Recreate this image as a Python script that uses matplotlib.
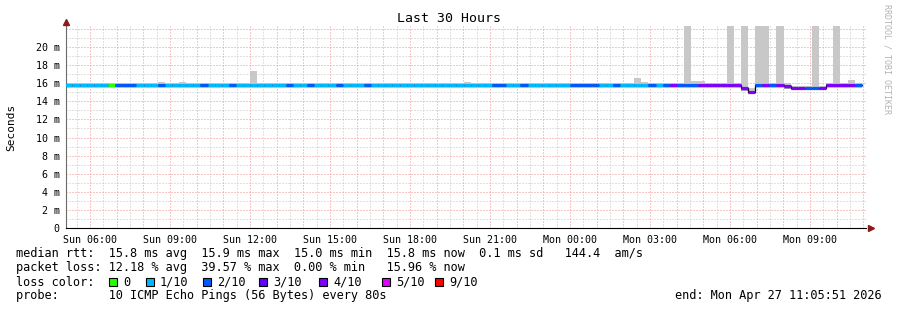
import matplotlib
matplotlib.use('Agg')
import matplotlib.pyplot as plt
import numpy as np
from matplotlib.patches import Rectangle

W, H = 897, 310
MONO = 'DejaVu Sans Mono'

# 16 minute consolidated steps, hours since window start (Sun 05:05:51)
step_h = 16 / 60.0
first_edge = -0.025

# loss per step, in tenths (10 pings)
loss = [
    1, 1, 1, 1, 1, 1, 0, 2, 2, 2, 1, 1, 1, 2,
    1, 1, 1, 1, 1, 2, 1, 1, 1, 2, 1, 1, 1, 1,
    1, 1, 1, 2, 1, 1, 2, 1, 1, 1, 2, 1, 1, 1,
    2, 1, 1, 1, 1, 1, 1, 1, 1, 1, 1, 1, 1, 1,
    1, 1, 1, 1, 2, 2, 1, 1, 2, 1, 1, 1, 1, 1,
    1, 2, 2, 2, 2, 1, 1, 2, 1, 1, 1, 1, 2, 1,
    2, 4, 2, 2, 2, 4, 4, 4, 4, 4, 4, 4, 4, 2,
    4, 2, 4, 4, 4, 4, 2, 2, 4, 4, 4, 4, 4, 2,
]

# median rtt per step (ms)
median = [
    15.8, 15.8, 15.8, 15.8, 15.8, 15.8, 15.8, 15.8, 15.8, 15.8, 15.8, 15.8, 15.8, 15.8,
    15.8, 15.8, 15.8, 15.8, 15.8, 15.8, 15.8, 15.8, 15.8, 15.8, 15.8, 15.8, 15.8, 15.8,
    15.8, 15.8, 15.8, 15.8, 15.8, 15.8, 15.8, 15.8, 15.8, 15.8, 15.8, 15.8, 15.8, 15.8,
    15.8, 15.8, 15.8, 15.8, 15.8, 15.8, 15.8, 15.8, 15.8, 15.8, 15.8, 15.8, 15.8, 15.8,
    15.8, 15.8, 15.8, 15.8, 15.8, 15.8, 15.8, 15.8, 15.8, 15.8, 15.8, 15.8, 15.8, 15.8,
    15.8, 15.8, 15.8, 15.8, 15.8, 15.8, 15.8, 15.8, 15.8, 15.8, 15.8, 15.8, 15.8, 15.8,
    15.8, 15.8, 15.8, 15.8, 15.8, 15.8, 15.8, 15.8, 15.8, 15.8, 15.8, 15.4, 15.0, 15.8,
    15.8, 15.8, 15.8, 15.62, 15.45, 15.45, 15.45, 15.45, 15.45, 15.8, 15.8, 15.8, 15.8, 15.8,
]

# smoke (min / max ping) per step (ms)
smoke_lo = [
    15.45, 15.5, 15.45, 15.5, 15.5, 15.5, 15.5, 15.4, 15.5, 15.5, 15.45, 15.5, 15.5, 15.4,
    15.5, 15.5, 15.45, 15.5, 15.4, 15.5, 15.5, 15.5, 15.5, 15.5, 15.45, 15.5, 15.5, 15.5,
    15.5, 15.5, 15.5, 15.5, 15.5, 15.45, 15.5, 15.5, 15.5, 15.45, 15.5, 15.5, 15.5, 15.5,
    15.5, 15.5, 15.5, 15.5, 15.5, 15.5, 15.5, 15.5, 15.5, 15.5, 15.5, 15.5, 15.5, 15.5,
    15.5, 15.5, 15.5, 15.5, 15.4, 15.5, 15.45, 15.5, 15.5, 15.5, 15.45, 15.5, 15.5, 15.5,
    15.42, 15.5, 15.5, 15.5, 15.5, 15.5, 15.5, 15.5, 15.5, 15.5, 15.5, 15.5, 15.5, 15.5,
    15.5, 15.5, 15.5, 15.5, 15.5, 15.5, 15.5, 15.5, 15.5, 15.5, 15.5, 15.2, 14.8, 15.5,
    15.5, 15.5, 15.5, 15.42, 15.3, 15.3, 15.3, 15.3, 15.3, 15.5, 15.5, 15.5, 15.5, 15.5,
]
smoke_hi = [
    16.05, 16.05, 16.0, 16.03, 16.03, 16.0, 16.0, 16.0, 16.0, 16.0, 16.0, 16.0, 16.03, 16.15,
    16.05, 16.0, 16.15, 16.0, 16.0, 16.0, 16.0, 16.0, 16.0, 16.0, 16.0, 16.0, 17.3, 16.0,
    16.0, 16.0, 16.0, 16.0, 16.03, 16.0, 16.0, 16.0, 16.0, 16.0, 16.0, 16.03, 16.0, 16.0,
    16.0, 16.0, 16.0, 16.0, 16.0, 16.0, 16.0, 16.0, 16.0, 16.0, 16.0, 16.0, 16.0, 16.0,
    16.15, 16.05, 16.0, 16.0, 16.0, 16.0, 16.0, 16.0, 16.0, 16.0, 16.0, 16.0, 16.0, 16.0,
    16.0, 16.0, 16.0, 16.0, 16.0, 16.0, 16.0, 16.0, 16.0, 16.0, 16.6, 16.1, 16.0, 16.0,
    16.0, 16.0, 16.0, 25.0, 16.2, 16.2, 16.03, 16.0, 16.0, 25.0, 16.0, 25.0, 15.45, 25.0,
    25.0, 16.0, 25.0, 16.0, 15.65, 15.65, 15.65, 25.0, 15.65, 16.0, 25.0, 16.0, 16.35, 16.0,
]

loss_colors = {0: '#26ff00', 1: '#00b8ff', 2: '#0059ff', 3: '#5e00ff',
               4: '#7e00ff', 5: '#dd00ff', 9: '#ff0000'}
legend_levels = [0, 1, 2, 3, 4, 5, 9]
legend_names = ['0', '1/10', '2/10', '3/10', '4/10', '5/10', '9/10']

xtick_labels = ['Sun 06:00', 'Sun 09:00', 'Sun 12:00', 'Sun 15:00', 'Sun 18:00',
                'Sun 21:00', 'Mon 00:00', 'Mon 03:00', 'Mon 06:00', 'Mon 09:00']
first_full_hour = 0.9025  # Sun 06:00 in hours after start
ytick_vals = list(range(0, 21, 2))

fig = plt.figure(figsize=(W / 100, H / 100), dpi=100)
fig.patch.set_facecolor('white')
ax = fig.add_axes([66 / W, 1 - 228.3 / H, 800 / W, 202.3 / H])
ax.set_xlim(0, 30)
ax.set_ylim(0, 22.28)

# grid
dot = (0, (1, 2))
for k in range(30):
    ax.axvline(first_full_hour - 0.5 + k, color='#c4c4c4', lw=0.72, ls=dot, zorder=0)
    ax.axvline(first_full_hour + k, color='#f09090', lw=0.72, ls=dot, zorder=0.5)
for v in range(1, 23):
    if v % 2:
        ax.axhline(v, color='#c4c4c4', lw=0.72, ls=dot, zorder=0)
    else:
        ax.axhline(v, color='#f09090', lw=0.72, ls=dot, zorder=0.5)

# smoke
n = len(median)
edges = first_edge + step_h * np.arange(n + 1)
med = np.array(median)
lo = np.append(smoke_lo, smoke_lo[-1])
hi = np.append(smoke_hi, smoke_hi[-1])
ax.fill_between(edges, lo, hi, step='post', color='#c8c8c8', lw=0, zorder=2)
m_ext = np.append(med, med[-1])
ax.fill_between(edges, m_ext - 0.25, m_ext + 0.05, step='post', color='#a0a0a0', lw=0, zorder=2.1)

# median line, coloured by loss
ax.step(edges, m_ext, where='post', color='black', lw=0.9, zorder=3)
ax.hlines(med, edges[:-1], edges[1:], colors=[loss_colors[l] for l in loss],
          lw=2.3, zorder=4, capstyle='butt')

# axes decoration
for s in ['top', 'right']:
    ax.spines[s].set_visible(False)
ax.spines['left'].set_color('#6a6a6a')
ax.spines['bottom'].set_color('black')
ax.set_xticks([first_full_hour + 3 * k for k in range(len(xtick_labels))])
ax.set_xticklabels(xtick_labels, family=MONO, fontsize=7.2)
ax.set_yticks(ytick_vals)
ax.set_yticklabels(['0'] + ['%d m' % v for v in ytick_vals[1:]], family=MONO, fontsize=7.2)
ax.tick_params(axis='x', length=0, pad=4.5)
ax.tick_params(axis='y', length=0, pad=4.5)
ax.plot([0], [1.018], transform=ax.transAxes, marker='^', ms=4, color='#8b1a1a',
        clip_on=False, zorder=6)
ax.plot([1.006], [0], transform=ax.transAxes, marker='>', ms=4, color='#8b1a1a',
        clip_on=False, zorder=6)

fig.text(448.5 / W, 1 - 19 / H, 'Last 30 Hours', ha='center', va='center',
         family=MONO, fontsize=9.5)
fig.text(11 / W, 1 - 127 / H, 'Seconds', rotation=90, ha='center', va='center',
         family=MONO, fontsize=8)
fig.text(887 / W, 1 - 4 / H, 'RRDTOOL / TOBI OETIKER', rotation=270, ha='center', va='top',
         family=MONO, fontsize=6, color='#b3b3b3')

# legend block
lines = [
    (254, 'median rtt:  15.8 ms avg  15.9 ms max  15.0 ms min  15.8 ms now  0.1 ms sd   144.4  am/s'),
    (268, 'packet loss: 12.18 % avg  39.57 % max  0.00 % min   15.96 % now'),
    (282, 'loss color:'),
    (296, 'probe:       10 ICMP Echo Pings (56 Bytes) every 80s'),
]
for y, txt in lines:
    fig.text(16 / W, 1 - y / H, txt, ha='left', va='center', family=MONO, fontsize=8.55)
fig.text(882 / W, 1 - 296 / H, 'end: Mon Apr 27 11:05:51 2026', ha='right', va='center',
         family=MONO, fontsize=8.55)

box_x = [109, 146, 203, 259, 319, 382, 435]
for bx, lvl, name in zip(box_x, legend_levels, legend_names):
    fig.add_artist(Rectangle((bx / W, 1 - 286 / H), 8 / W, 8 / H, transform=fig.transFigure,
                             facecolor=loss_colors[lvl], edgecolor='black', lw=0.8))
    fig.text((bx + 14) / W, 1 - 282 / H, name, ha='left', va='center', family=MONO, fontsize=8.55)

plt.savefig('out.png', dpi=100)
